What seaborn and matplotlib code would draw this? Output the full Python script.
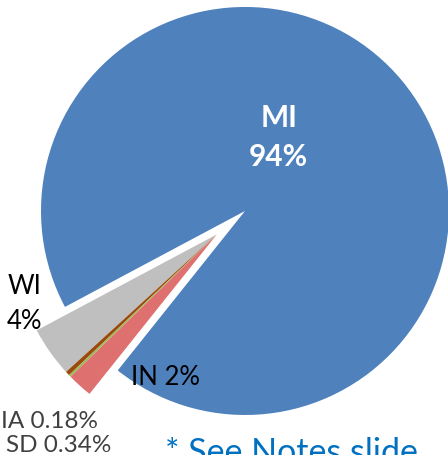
import numpy as np
import matplotlib
matplotlib.use("Agg")
import matplotlib.pyplot as plt
import seaborn as sns

sns.set_theme(style="white")
plt.rcParams['font.family'] = ['Lato', 'DejaVu Sans']

labels = ["MI", "WI", "SD", "IA", "IN"]
values = [94, 4, 0.34, 0.18, 2]
colors = ["#4F81BD", "#BFBFBF", "#9A4A0C", "#9BBB59", "#DE7070"]
exploded = [False, True, True, True, True]

fig = plt.figure(figsize=(4.48, 4.55), dpi=100)
ax = fig.add_axes([0, 0, 1, 1])

wedges, _ = ax.pie(values, colors=colors, startangle=231.4, counterclock=True,
                   radius=1.0, wedgeprops=dict(linewidth=0))

# explode the small group together along the group's bisector
total = sum(values)
small_start = 231.4 + values[0] / total * 360
small_end = 231.4 + 360
mid = np.deg2rad((small_start + small_end) / 2)
off = 0.18
for w, e in zip(wedges, exploded):
    if e:
        w.set_center((off * np.cos(mid), off * np.sin(mid)))

ax.set_xlim(-1.201, 0.995)
ax.set_ylim(-1.196, 1.034)
ax.set_aspect("equal")
ax.axis("off")

ax.text(0.165, 0.36, "MI\n94%", color="white", fontsize=21.5, fontweight="bold",
        ha="center", va="center", linespacing=1.5)
ax.text(-1.08, -0.455, "WI\n4%", color="black", fontsize=18.5,
        ha="center", va="center", linespacing=1.5)
ax.text(-0.39, -0.815, "IN 2%", color="black", fontsize=18.5, ha="center", va="center")
ax.text(-1.197, -1.03, "IA 0.18%", color="#404040", fontsize=17.5, ha="left", va="center")
ax.text(-1.17, -1.15, "SD 0.34%", color="#404040", fontsize=17.5, ha="left", va="center")
ax.text(-0.39, -1.11, "* See Notes slide", color="#0070C0", fontsize=24.5,
        ha="left", va="top")

fig.savefig("out.png", dpi=100)
